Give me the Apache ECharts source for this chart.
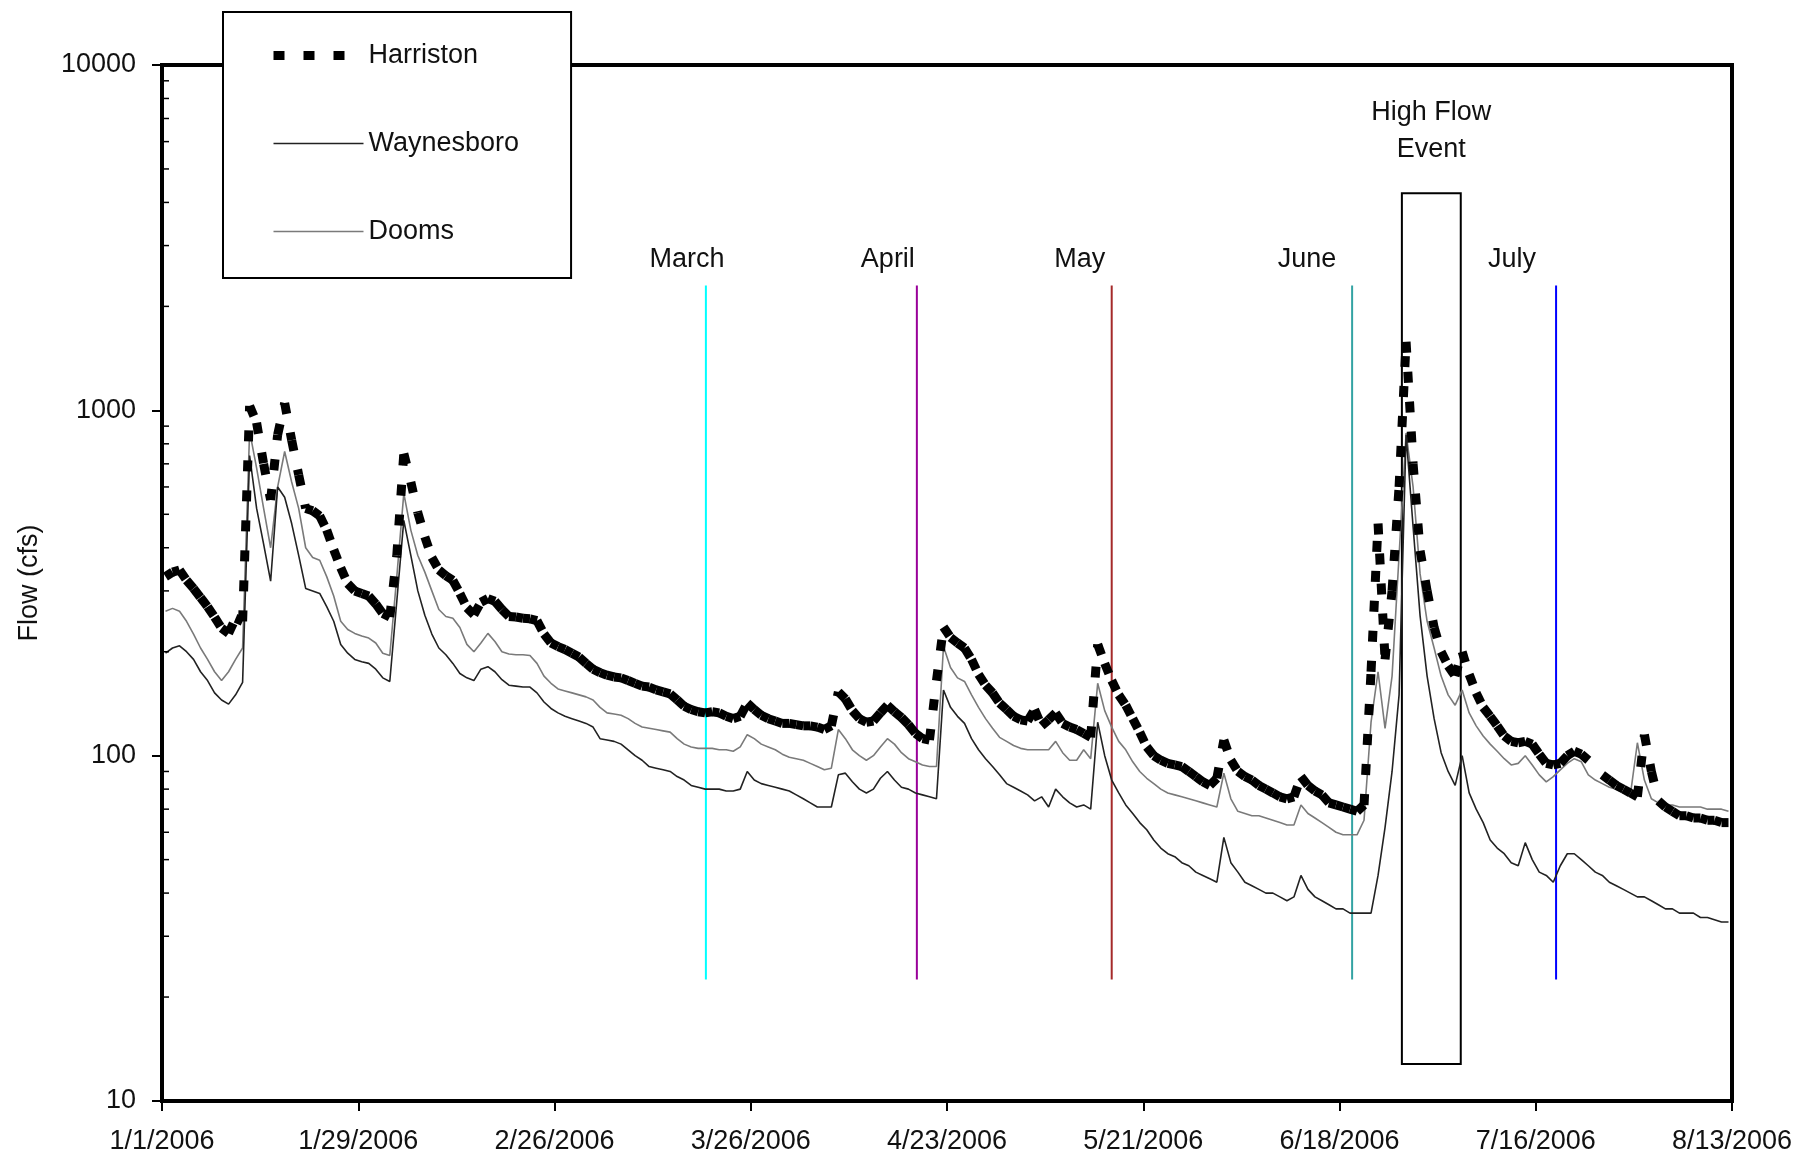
<!DOCTYPE html>
<html lang="en">
<head>
<meta charset="UTF-8">
<title>Flow</title>
<style>
  * { margin: 0; }
  html, body, #chart { width: 100%; height: 100%; background: #fff; }
</style>
</head>
<body>
<div id="chart"></div>
<script src="https://cdn.jsdelivr.net/npm/echarts@6/dist/echarts.min.js"></script>
<script>
// daily mean flow (cfs), one value per day starting 1/1/2006
var dateLabels = ['1/1/2006', '1/29/2006', '2/26/2006', '3/26/2006', '4/23/2006',
    '5/21/2006', '6/18/2006', '7/16/2006', '8/13/2006'];
var yTickLabels = ['10', '100', '1000', '10000'];

var harriston = [
    330, 340, 345, 322, 305, 287, 270, 252, 234, 226,
    250, 245, 1030, 920, 700, 550, 850, 1050, 820, 650,
    520, 512, 495, 450, 395, 350, 315, 300, 295, 290,
    275, 258, 252, 380, 750, 620, 505, 430, 375, 345,
    332, 322, 295, 268, 256, 278, 285, 280, 265, 253,
    252, 250, 249, 246, 225, 212, 207, 203, 198, 193,
    185, 178, 174, 171, 169, 168, 165, 162, 159, 158,
    155, 153, 151, 145, 139, 136, 134, 133, 134, 133,
    130, 128, 130, 142, 136, 131, 128, 126, 124, 124,
    123, 122, 122, 121, 119, 122, 153, 146, 135, 128,
    125, 126, 133, 140, 134, 129, 123, 116, 112, 111,
    165, 236, 220, 212, 205, 190, 172, 160, 152, 142,
    136, 130, 127, 126, 136, 122, 127, 133, 124, 121,
    119, 116, 113, 210, 185, 165, 150, 140, 128, 117,
    106, 100, 97, 95, 94, 93, 90, 87, 84, 82,
    86, 111, 97, 90, 87, 85, 82, 80, 78, 76,
    75, 76, 87, 82, 79, 77, 73, 72, 71, 70,
    69, 72, 175, 470, 190, 300, 600, 1580, 700, 392,
    300, 235, 200, 182, 170, 200, 172, 152, 138, 130,
    122, 114, 110, 109, 110, 108, 101, 95, 94, 95,
    100, 103, 101, 97, null, 88, 85, 82, 80, 78,
    76, 115, 90, 74, 71, 69, 67, 67, 66, 66,
    65, 65, 64, 64
];

var waynesboro = [
    198, 205, 208, 200, 190, 175, 165, 152, 145, 141,
    150, 163, 740, 520, 410, 320, 600, 560, 470, 380,
    305, 300, 295, 270, 245, 210, 198, 190, 187, 185,
    178, 168, 164, 280, 480, 380, 300, 255, 225, 205,
    196, 185, 173, 168, 165, 178, 181, 175, 166, 160,
    159, 158, 158, 152, 143, 137, 133, 130, 128, 126,
    124, 121, 112, 111, 110, 108, 104, 100, 97, 93,
    92, 91, 90, 87, 85, 82, 81, 80, 80, 80,
    79, 79, 80, 90, 85, 83, 82, 81, 80, 79,
    77, 75, 73, 71, 71, 71, 88, 89, 84, 80,
    78, 80, 86, 90, 85, 81, 80, 78, 77, 76,
    75, 155, 138, 130, 124, 112, 104, 98, 93, 88,
    83, 81, 79, 77, 74, 76, 71, 80, 76, 73,
    71, 72, 70, 125, 100, 85, 78, 72, 68, 64,
    61, 57, 54, 52, 51, 49, 48, 46, 45, 44,
    43, 58, 49, 46, 43, 42, 41, 40, 40, 39,
    38, 39, 45, 41, 39, 38, 37, 36, 36, 35,
    35, 35, 35, 45, 62, 90, 150, 850, 460, 254,
    170, 128, 102, 90, 82, 100, 78, 70, 64, 57,
    54, 52, 49, 48, 56, 50, 46, 45, 43, 48,
    52, 52, 50, 48, 46, 45, 43, 42, 41, 40,
    39, 39, 38, 37, 36, 36, 35, 35, 35, 34,
    34, 33.5, 33, 33
];

var dooms = [
    262, 267, 262, 245, 225, 205, 190, 175, 165, 175,
    190, 205, 870, 680, 520, 400, 600, 760, 620, 520,
    400, 375, 368, 330, 290, 245, 232, 226, 222, 219,
    212, 198, 195, 330, 575, 450, 380, 340, 300, 265,
    253, 250, 235, 210, 200, 212, 226, 214, 200, 197,
    196, 196, 195, 185, 170, 162, 156, 154, 152, 150,
    148, 145, 138, 133, 132, 131, 128, 124, 121, 120,
    119, 118, 117, 112, 108, 106, 105, 105, 105, 104,
    104, 103, 106, 115, 112, 108, 106, 104, 101, 99,
    98, 97, 95, 93, 91, 92, 119, 112, 104, 100,
    97, 100, 106, 112, 108, 102, 98, 96, 94, 93,
    93, 207, 180, 168, 164, 150, 138, 128, 120, 113,
    110, 107, 105, 104, 104, 104, 104, 110, 102, 97,
    97, 104, 98, 162, 135, 121, 110, 104, 96, 90,
    86, 83, 80, 78, 77, 76, 75, 74, 73, 72,
    71, 89, 75, 69, 68, 67, 67, 66, 65, 64,
    63, 63, 72, 68, 66, 64, 62, 60, 59, 59,
    59, 65, 125, 175, 120, 170, 380, 860, 600, 336,
    245, 205, 170, 150, 140, 155, 133, 122, 114, 108,
    103, 98, 94, 95, 100, 94, 88, 84, 87, 91,
    95, 98, 96, 88, 85, 83, 81, 80, 78, 77,
    109, 85, 75, 73, 72, 72, 71, 71, 71, 71,
    70, 70, 70, 69
];

// sampling dates marked on the chart (days after 1/1/2006)
var monthNames = ['March', 'April', 'May', 'June', 'July'];
var monthDays = [77.6, 107.7, 135.5, 169.8, 198.9];
var monthLineFlows = [22.5, 2300];
var eventDays = [176.9, 185.3];
var eventFlows = [12.8, 4250];
var minorFlows = [20, 30, 40, 50, 60, 70, 80, 90,
    200, 300, 400, 500, 600, 700, 800, 900,
    2000, 3000, 4000, 5000, 6000, 7000, 8000, 9000];

var chart = echarts.init(document.getElementById('chart'));
var font = 'Liberation Sans';
var fontSize = 27;
var textColor = '#111';
var monthColors = ['#00ffff', '#990099', '#a52a2a', '#33a3a3', '#0000ff'];
var monthLabelShift = [-19, -29, -32, -45, -44];

// Excel puts each daily point in the middle of its day
function pairs(arr) {
    return arr.map(function (v, i) { return [i + 0.5, v]; });
}

var option = {
    animation: false,
    backgroundColor: '#fff',
    grid: {
        left: 162, right: 80, top: 65, bottom: 58,
        outerBoundsMode: 'none',
        show: true, borderColor: '#000', borderWidth: 4
    },
    legend: {
        data: ['Harriston', 'Waynesboro', 'Dooms'],
        orient: 'vertical',
        left: 223, top: 12,
        padding: [28, 52, 31, 46],
        itemGap: 57, itemWidth: 90, itemHeight: 14,
        backgroundColor: '#fff', borderColor: '#000', borderWidth: 2,
        selectedMode: false,
        itemStyle: { opacity: 0 },
        lineStyle: { width: 'inherit' },
        textStyle: { fontSize: fontSize, color: textColor, fontFamily: font, lineHeight: 31 }
    },
    xAxis: {
        type: 'value', min: 0, max: 224, interval: 28,
        axisLine: { lineStyle: { color: '#000', width: 4 } },
        axisTick: { length: 10, lineStyle: { color: '#000', width: 2 } },
        axisLabel: {
            fontSize: fontSize, color: textColor, fontFamily: font, margin: 27,
            formatter: function (v) { return dateLabels[Math.round(v / 28)]; }
        },
        splitLine: { show: false }
    },
    yAxis: {
        type: 'log', logBase: 10, min: 10, max: 10000,
        name: 'Flow (cfs)', nameLocation: 'middle', nameGap: 119,
        nameTextStyle: { fontSize: fontSize, color: textColor, fontFamily: font },
        axisLine: { show: true, lineStyle: { color: '#000', width: 4 } },
        axisTick: { show: true, length: 10, lineStyle: { color: '#000', width: 2 } },
        axisLabel: {
            fontSize: fontSize, color: textColor, fontFamily: font, margin: 26,
            formatter: function (v) { return yTickLabels[Math.round(Math.log10(v)) - 1]; }
        },
        splitLine: { show: false }
    },
    series: [
        {
            // legend entry only
            name: 'Harriston', type: 'line', data: [], symbol: 'none',
            itemStyle: { color: '#000' },
            lineStyle: { color: '#000', width: 9, type: [11, 19], cap: 'butt' }
        },
        {
            name: 'Harriston', type: 'custom', z: 4,
            data: pairs(harriston),
            encode: { x: 0, y: 1 },
            itemStyle: { color: '#000' },
            renderItem: function (params, api) {
                var i = params.dataIndex;
                if (i === 0 || harriston[i] == null || harriston[i - 1] == null) return;
                var a = api.coord([i - 0.5, harriston[i - 1]]);
                var b = api.coord([i + 0.5, harriston[i]]);
                return {
                    type: 'line',
                    shape: { x1: a[0], y1: a[1], x2: b[0], y2: b[1] },
                    style: { stroke: '#000', lineWidth: 9, lineDash: [11, 19], lineCap: 'butt' }
                };
            }
        },
        {
            name: 'Waynesboro', type: 'line', z: 3, symbol: 'none',
            data: pairs(waynesboro),
            itemStyle: { color: '#222' },
            lineStyle: { color: '#222', width: 1.6 },
            markArea: {
                silent: true,
                itemStyle: { color: 'rgba(0,0,0,0)', borderColor: '#000', borderWidth: 2 },
                label: {
                    show: true, position: 'top', distance: 24,
                    formatter: 'High Flow\nEvent',
                    fontSize: fontSize, lineHeight: 37, color: textColor, fontFamily: font
                },
                data: [[
                    { coord: [eventDays[0], eventFlows[0]] },
                    { coord: [eventDays[1], eventFlows[1]] }
                ]]
            }
        },
        {
            name: 'Dooms', type: 'line', z: 2, symbol: 'none',
            data: pairs(dooms),
            itemStyle: { color: '#7a7a7a' },
            lineStyle: { color: '#7a7a7a', width: 1.6 }
        },
        {
            // minor log ticks on the inside of the y axis
            type: 'custom', silent: true, z: 6,
            data: minorFlows.map(function (v) { return [0, v]; }),
            renderItem: function (params, api) {
                var c = api.coord([0, api.value(1)]);
                return {
                    type: 'line',
                    shape: { x1: c[0] + 1, y1: c[1], x2: c[0] + 7, y2: c[1] },
                    style: { stroke: '#000', lineWidth: 1.5 }
                };
            }
        },
        {
            // sampling month lines with their labels
            type: 'custom', silent: true, z: 1,
            data: monthDays.map(function (d) { return [d, monthLineFlows[1]]; }),
            renderItem: function (params, api) {
                var k = params.dataIndex;
                var lo = api.coord([monthDays[k], monthLineFlows[0]]);
                var hi = api.coord([monthDays[k], monthLineFlows[1]]);
                return {
                    type: 'group',
                    children: [{
                        type: 'line',
                        shape: { x1: lo[0], y1: lo[1], x2: hi[0], y2: hi[1] },
                        style: { stroke: monthColors[k], lineWidth: 2 }
                    }, {
                        type: 'text',
                        x: hi[0] + monthLabelShift[k], y: hi[1] - 26,
                        style: {
                            text: monthNames[k], fill: textColor,
                            fontSize: fontSize, fontFamily: font,
                            align: 'center', verticalAlign: 'middle'
                        }
                    }]
                };
            }
        }
    ]
};
chart.setOption(option);
</script>
</body>
</html>
